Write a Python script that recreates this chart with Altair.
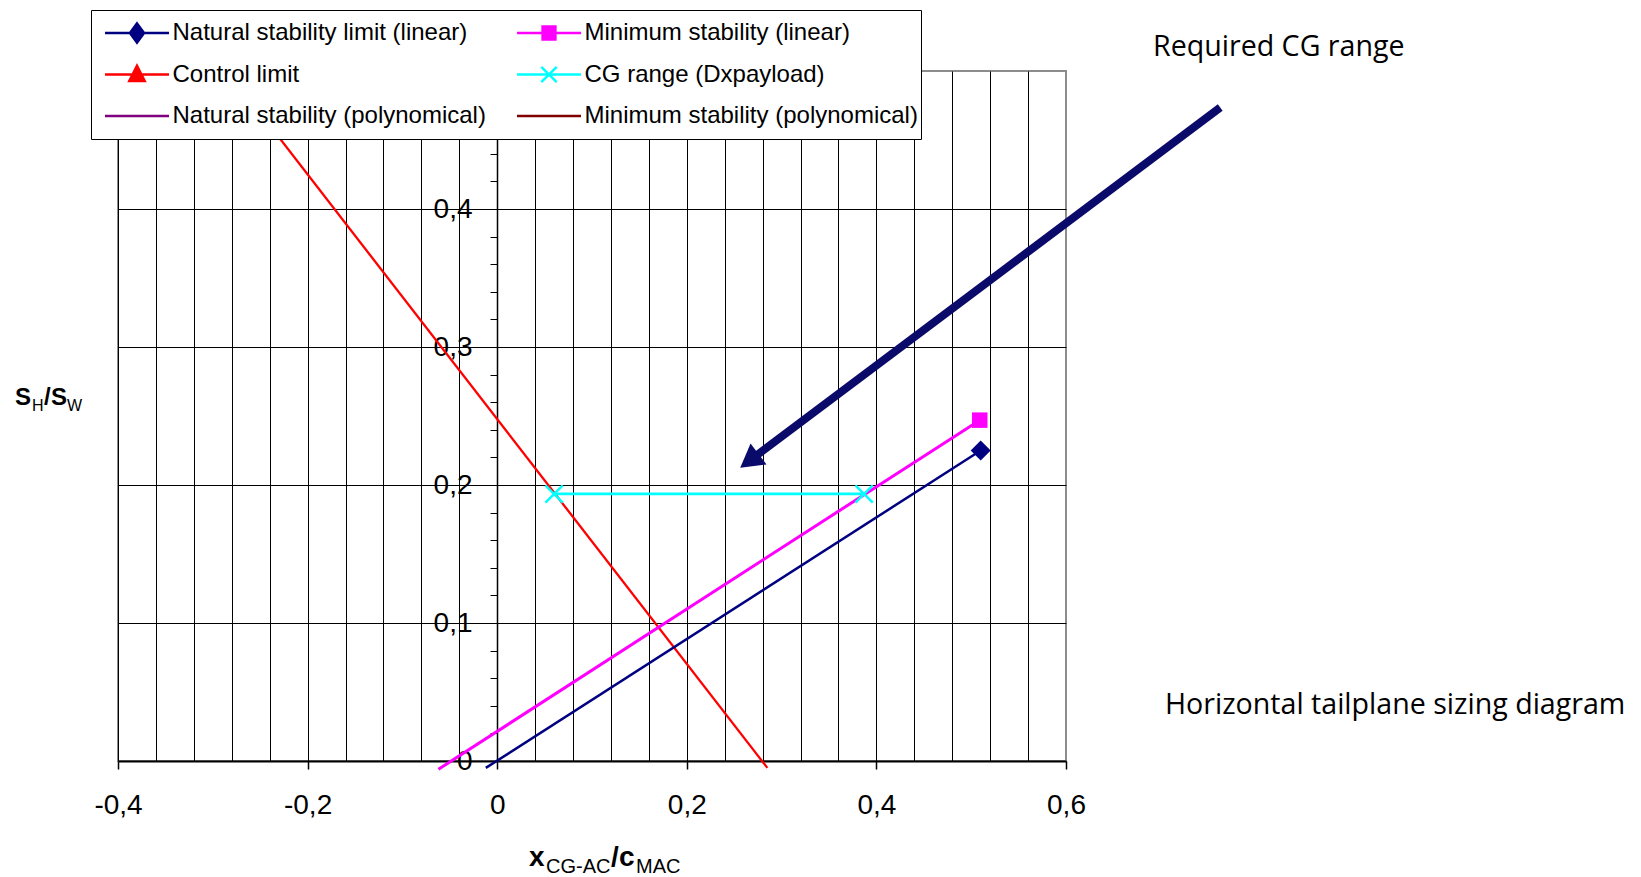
import altair as alt
import pandas as pd

# ---------------- data ----------------
# legend order (filled column by column: left column first)
series_names = [
    "Natural stability limit (linear)",
    "Control limit",
    "Natural stability (polynomical)",
    "Minimum stability (linear)",
    "CG range (Dxpayload)",
    "Minimum stability (polynomical)",
]
series_colors = ["#000080", "#FF0000", "#800080", "#FF00FF", "#00FFFF", "#800000"]

natural_x = [-0.012, 0.51]
natural_y = [-0.005, 0.225]
minimum_x = [-0.062, 0.509]
minimum_y = [-0.006, 0.247]
control_x = [-0.28, 0.285]
control_y = [0.496, -0.005]
cg_x = [0.06, 0.387]
cg_y = [0.1935, 0.1935]

x_ticks = [-0.4, -0.2, 0.0, 0.2, 0.4, 0.6]
x_tick_labels = ["-0,4", "-0,2", "0", "0,2", "0,4", "0,6"]
y_ticks = [0.0, 0.1, 0.2, 0.3, 0.4]
y_tick_labels = ["0", "0,1", "0,2", "0,3", "0,4"]
x_grid = [-0.4, -0.36, -0.32, -0.28, -0.24, -0.2, -0.16, -0.12, -0.08, -0.04,
          0.0, 0.04, 0.08, 0.12, 0.16, 0.2, 0.24, 0.28, 0.32, 0.36, 0.4,
          0.44, 0.48, 0.52, 0.56]
y_grid = [0.1, 0.2, 0.3, 0.4]
y_minor = [0.02, 0.04, 0.06, 0.08, 0.12, 0.14, 0.16, 0.18, 0.22, 0.24, 0.26,
           0.28, 0.32, 0.34, 0.36, 0.38, 0.42, 0.44, 0.46, 0.48]

arrow_x = [0.7627, 0.266]
arrow_y = [0.4735, 0.2175]

# legend symbol shapes (line + marker), same order as series_names
legend_paths = [
    "M-1,0L1,0M0,-0.3L0.22,0L0,0.3L-0.22,0Z",
    "M-1,0L1,0M0,-0.27L0.24,0.2L-0.24,0.2Z",
    "M-1,0L1,0",
    "M-1,0L1,0M-0.2,-0.2L0.2,-0.2L0.2,0.2L-0.2,0.2Z",
    "M-1,0L1,0M-0.24,-0.24L0.24,0.24M-0.24,0.24L0.24,-0.24",
    "M-1,0L1,0",
]

FONT = "Liberation Sans"
C_NAT, C_CTRL, C_MIN, C_CG = "#000080", "#FF0000", "#FF00FF", "#00FFFF"


def label_expr(vals, labels):
    v = ",".join(repr(float(a)) for a in vals)
    l = ",".join("'" + s + "'" for s in labels)
    return f"[{l}][indexof([{v}], datum.value)]"


xs = alt.Scale(domain=[-0.4, 0.6], nice=False, zero=False)
ys = alt.Scale(domain=[0, 0.5], nice=False, zero=False)

ax_x_grid = alt.Axis(orient="bottom", values=x_grid, grid=True, gridColor="#000000",
                     gridWidth=1, gridOpacity=1, ticks=False, labels=False,
                     domain=False, title=None)
ax_y_grid = alt.Axis(orient="left", values=y_grid, grid=True, gridColor="#000000",
                     gridWidth=1, gridOpacity=1, ticks=False, labels=False,
                     domain=False, title=None)
ax_x_main = alt.Axis(orient="bottom", values=x_ticks, grid=False, ticks=True,
                     tickSize=8, tickColor="#000000", tickWidth=1.5,
                     domain=True, domainColor="#000000", domainWidth=2,
                     labels=True, labelExpr=label_expr(x_ticks, x_tick_labels),
                     labelFont=FONT, labelFontSize=28, labelColor="#000000",
                     labelPadding=22, labelFlush=False, labelOverlap=False,
                     title=None)
ax_y_main = alt.Axis(orient="left", offset=-379, values=y_ticks, grid=False,
                     ticks=False, tickSize=0, domain=True, domainColor="#000000",
                     domainWidth=1.5, labels=True,
                     labelExpr=label_expr(y_ticks, y_tick_labels),
                     labelFont=FONT, labelFontSize=28, labelColor="#000000",
                     labelPadding=25, labelFlush=False, labelOverlap=False,
                     title=None)
ax_y_minor = alt.Axis(orient="left", offset=-379, values=y_minor, grid=False,
                      ticks=True, tickSize=7, tickColor="#000000", tickWidth=1,
                      labels=False, domain=False, title=None)


def frame(xv, yv):
    return pd.DataFrame({"x": xv, "y": yv})


def enc(chart, xaxis=None, yaxis=None):
    return chart.encode(
        x=alt.X("x:Q", scale=xs, axis=xaxis),
        y=alt.Y("y:Q", scale=ys, axis=yaxis),
    )


control = enc(alt.Chart(frame(control_x, control_y)).mark_line(
    color=C_CTRL, strokeWidth=2.3, clip=False), ax_x_grid, ax_y_grid)
natural = enc(alt.Chart(frame(natural_x, natural_y)).mark_line(
    color=C_NAT, strokeWidth=2.5, clip=False), ax_x_main, ax_y_main)
minimum = enc(alt.Chart(frame(minimum_x, minimum_y)).mark_line(
    color=C_MIN, strokeWidth=3, clip=False), None, ax_y_minor)
cg = enc(alt.Chart(frame(cg_x, cg_y)).mark_line(
    color=C_CG, strokeWidth=2.8, clip=False))

nat_marker = enc(alt.Chart(frame(natural_x[-1:], natural_y[-1:])).mark_point(
    shape="diamond", filled=True, size=400, opacity=1, color=C_NAT))
min_marker = enc(alt.Chart(frame(minimum_x[-1:], minimum_y[-1:])).mark_point(
    shape="square", filled=True, size=240, opacity=1, color=C_MIN))
cg_marker = enc(alt.Chart(frame(cg_x, cg_y)).mark_point(
    shape="M-1,-1L1,1M-1,1L1,-1", filled=False, size=300, opacity=1,
    strokeWidth=2.5, color=C_CG))

legend_def = dict(
    orient="none", legendX=-27, legendY=-61, columns=2, title=None,
    symbolSize=4096, clipHeight=40, labelFont=FONT, labelFontSize=24,
    labelColor="#000000", labelLimit=700, padding=3, symbolOffset=9.5,
    labelOffset=2, columnPadding=20, rowPadding=1.5, strokeColor="#000000",
    fillColor="#ffffff", symbolStrokeWidth=2.5, symbolOpacity=1,
)
legend_df = pd.DataFrame({"series": series_names,
                          "x": [0.0] * len(series_names),
                          "y": [0.0] * len(series_names)})
legend_layer = alt.Chart(legend_df).transform_filter("false").mark_point(
    filled=True, opacity=1, strokeWidth=2.5, size=4096).encode(
    x=alt.X("x:Q", scale=xs, axis=None),
    y=alt.Y("y:Q", scale=ys, axis=None),
    fill=alt.Fill("series:N", scale=alt.Scale(domain=series_names, range=series_colors),
                  legend=alt.Legend(**legend_def)),
    stroke=alt.Stroke("series:N", scale=alt.Scale(domain=series_names, range=series_colors),
                      legend=alt.Legend(**legend_def)),
    shape=alt.Shape("series:N", scale=alt.Scale(domain=series_names, range=legend_paths),
                    legend=alt.Legend(**legend_def)),
)

ARROW = "#0a0a6a"
arrow = enc(alt.Chart(frame(arrow_x, arrow_y)).mark_line(
    color=ARROW, strokeWidth=8, strokeCap="butt", clip=False))
arrow_head = enc(alt.Chart(frame(arrow_x[-1:], arrow_y[-1:])).mark_point(
    shape="triangle-up", angle=233, filled=True, size=700, opacity=1,
    color=ARROW, clip=False))


def txt(text, x, y, size, weight="normal", font=FONT, baseline="alphabetic"):
    return alt.Chart(pd.DataFrame({"t": [text]})).mark_text(
        font=font, fontSize=size, fontWeight=weight, align="left",
        baseline=baseline, color="#000000").encode(
        x=alt.value(x), y=alt.value(y), text="t:N")


texts = [
    txt("Required CG range", 1035, -24, 28.6, font="Open Sans", baseline="middle"),
    txt("Horizontal tailplane sizing diagram", 1047, 634, 28.6, font="Open Sans",
        baseline="middle"),
    # y title  S_H / S_W
    txt("S", -103, 334, 24, "bold"),
    txt("H", -86, 340, 16),
    txt("/", -74, 334, 24, "bold"),
    txt("S", -67, 334, 24, "bold"),
    txt("W", -51, 340, 16),
    # x title  x_CG-AC / c_MAC
    txt("x", 411, 795, 28, "bold"),
    txt("CG-AC", 428, 802, 20),
    txt("/", 493, 795, 28, "bold"),
    txt("c", 501, 795, 28, "bold"),
    txt("MAC", 518, 802, 20),
]

chart = alt.layer(
    control, natural, minimum, cg, nat_marker, min_marker, cg_marker,
    legend_layer, arrow, arrow_head, *texts
).resolve_axis(x="independent", y="independent").properties(
    width=948, height=690,
    padding={"left": 118, "top": 71, "right": 575, "bottom": 116},
    autosize=alt.AutoSizeParams(type="none"),
    background="white",
).configure_view(stroke="#8c8c8c", strokeWidth=2)

chart.save("out.html", embed_options={"renderer": "svg", "actions": False})
